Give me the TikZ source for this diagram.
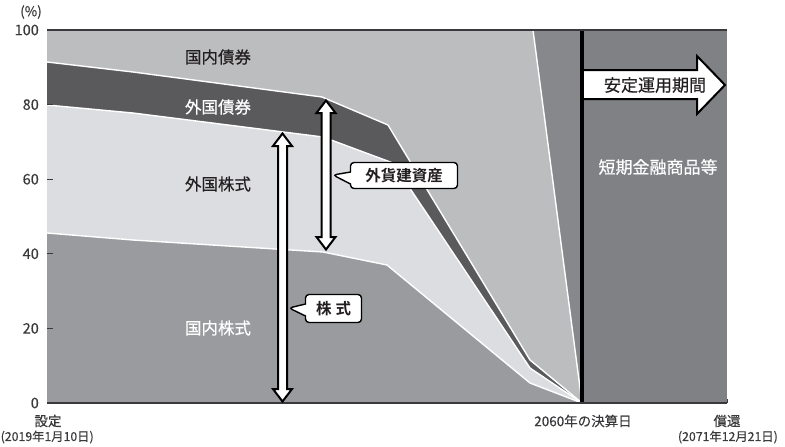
\documentclass[tikz,border=0pt]{standalone}
\usepackage{fontspec}
\setmainfont{Noto Sans CJK JP}[FakeBold=0.35]
\newfontfamily\boldjp{Noto Sans CJK JP Bold}
\usetikzlibrary{shapes.callouts}
\definecolor{dbond}{HTML}{BCBDBF}
\definecolor{fbond}{HTML}{5A5A5D}
\definecolor{fstock}{HTML}{DCDDE0}
\definecolor{dstock}{HTML}{9A9B9E}
\definecolor{shortfill}{HTML}{808184}
\definecolor{wedgefill}{HTML}{87888B}
\definecolor{axisgray}{HTML}{3A3A3C}
\definecolor{inkdark}{HTML}{231F20}
\begin{document}
\begin{tikzpicture}[x=1pt,y=-1pt,
  sep/.style={white, line width=1.4pt, line join=round},
  arrowshape/.style={fill=white, draw=black, line width=2pt, line join=miter},
  calloutbox/.style={rectangle callout, draw=black, fill=white, line width=1.4pt,
    rounded corners=3.5pt, inner sep=0pt, text=inkdark,
    font=\fontsize{15.5}{16}\selectfont\boldjp, callout pointer width=12pt},
  arealbl/.style={font=\fontsize{16.5}{18}\selectfont, inner sep=0pt},
  ticklbl/.style={font=\fontsize{14.5}{16}\selectfont, text=axisgray, anchor=east, inner sep=0pt},
  datelbl/.style={font=\fontsize{13.5}{15}\selectfont, text=axisgray, inner sep=0pt},
  axisline/.style={draw=axisgray, line width=1.1pt},
  tickline/.style={draw=axisgray, line width=1pt}]
\useasboundingbox (0,0) rectangle (785,447);

% plot frame coordinates
\coordinate (tl) at (47,30);
\coordinate (bl) at (47,403);
\coordinate (cut) at (582,403);
\coordinate (cuttop) at (582,30);
\coordinate (tr) at (727,30);
\coordinate (br) at (727,403);

% wedge background
\fill[wedgefill] (tl) rectangle (cut);
% domestic bonds
\fill[dbond] (tl) -- (533,30) -- (cut) -- (bl) -- cycle;
% foreign bonds
\fill[fbond] (47,62) -- (133,72) -- (322,97) -- (388,125) -- (530,360) -- (cut) -- (bl) -- cycle;
% foreign stocks
\fill[fstock] (47,105) -- (133,113) -- (323,137) -- (393,163) -- (530,368) -- (cut) -- (bl) -- cycle;
% domestic stocks
\fill[dstock] (47,233) -- (133,240) -- (323,252) -- (387,265) -- (530,383) -- (cut) -- (bl) -- cycle;

% white separators
\draw[sep] (47,62) -- (133,72) -- (322,97) -- (388,125) -- (530,360) -- (cut);
\draw[sep] (47,105) -- (133,113) -- (323,137) -- (393,163) -- (530,368) -- (cut);
\draw[sep] (47,233) -- (133,240) -- (323,252) -- (387,265) -- (530,383) -- (cut);
\draw[sep] (533,30) -- (cut);

% short-term region
\fill[shortfill] (cuttop) rectangle (br);

% stable management arrow
\fill[white] (583,70) -- (697,70) -- (697,56) -- (725,85) -- (697,114) -- (697,99) -- (583,99) -- cycle;
\draw[arrowshape, fill=none] (583,70) -- (697,70) -- (697,56) -- (725,85) -- (697,114) -- (697,99) -- (583,99);

% black divider
\draw[black, line width=3.5pt] (cuttop) -- (cut);

% frame lines
\draw[axisline] (tl) -- (tr);
\draw[axisline] (bl) -- (br);
\draw[tickline] (br) -- (727,399);

% ticks and labels
\foreach \v/\yy in {100/30,80/104.6,60/179.2,40/253.8,20/328.4,0/403}{
  \draw[tickline] (47,\yy) -- (53,\yy);
  \node[ticklbl] (t\v) at (39,\yy) {\v};
}
\node[datelbl] (pct) at (31,12) {(\%)};

% double arrows
\draw[arrowshape] (282.5,133.5) -- (292,146) -- (287,146) -- (287,389) -- (292,389) -- (282.5,401.5)
  -- (273,389) -- (278,389) -- (278,146) -- (273,146) -- cycle;
\draw[arrowshape] (326,100.5) -- (335.5,113) -- (330.5,113) -- (330.5,237) -- (335.5,237) -- (326,249.5)
  -- (316.5,237) -- (321.5,237) -- (321.5,113) -- (316.5,113) -- cycle;

% area labels
\node[arealbl, text=inkdark] (lbldb) at (218,57) {国内債券};
\node[arealbl, text=white] (lblfb) at (218,107) {外国債券};
\node[arealbl, text=inkdark] (lblfs) at (218,184) {外国株式};
\node[arealbl, text=white] (lblds) at (218,328) {国内株式};
\node[arealbl, text=white, font=\fontsize{17}{18}\selectfont] (lblst) at (658,167) {短期金融商品等};
\node[arealbl, text=inkdark, font=\fontsize{17}{18}\selectfont] (lblstable) at (655,85) {安定運用期間};

% callouts
\node[calloutbox, minimum width=107pt, minimum height=26pt, callout absolute pointer={(333,175)}] (fx) at (404,175.5) {外貨建資産};
\node[calloutbox, minimum width=56pt, minimum height=28pt, callout absolute pointer={(289,308)}] (stk) at (333.5,308.5) {株\hspace{4pt}式};

% date labels
\node[datelbl] (setlbl) at (48,421) {設定};
\node[datelbl, anchor=west, font=\fontsize{12.3}{14}\selectfont] (setdate) at (0.5,437) {(2019年1月10日)};
\node[datelbl] (fy2060) at (583,421) {2060年の決算日};
\node[datelbl] (redlbl) at (727,421) {償還};
\node[datelbl, anchor=east, font=\fontsize{12.3}{14}\selectfont] (reddate) at (778,437) {(2071年12月21日)};
\end{tikzpicture}
\end{document}
